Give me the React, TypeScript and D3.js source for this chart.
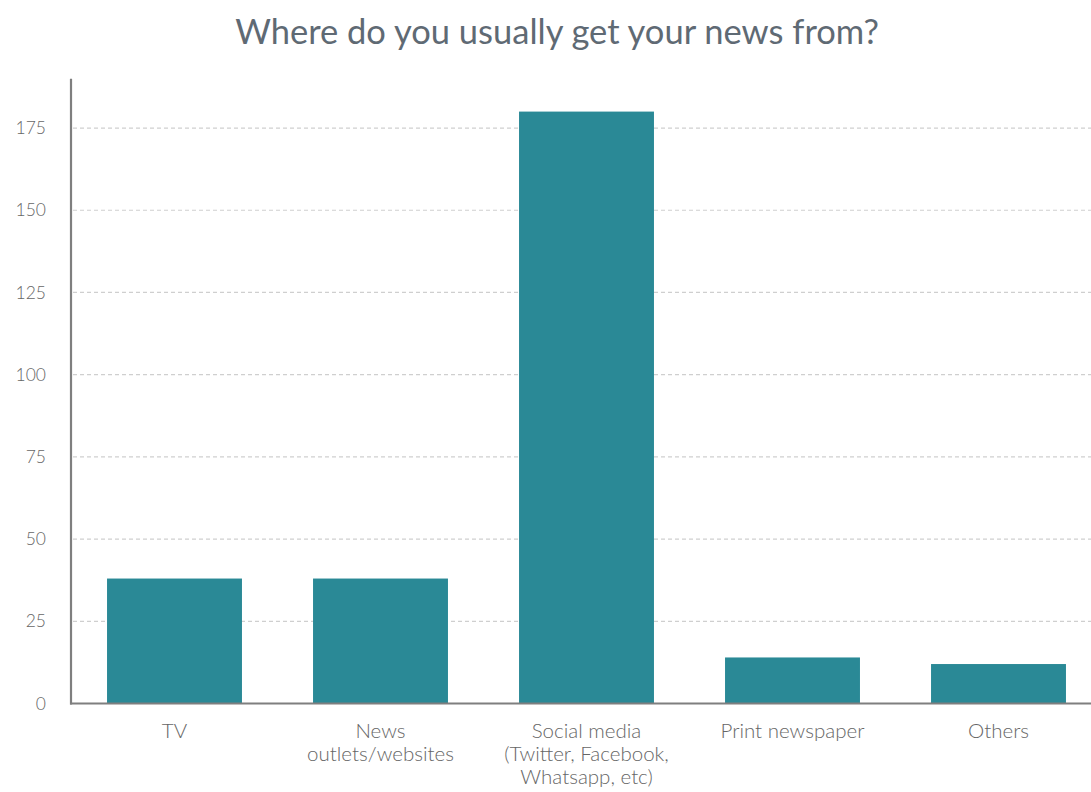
import React from "react";
import * as d3 from "d3";

const title = "Where do you usually get your news from?";
const categories = [
  "TV",
  "News\noutlets/websites",
  "Social media\n(Twitter, Facebook,\nWhatsapp, etc)",
  "Print newspaper",
  "Others",
];
const values = [38, 38, 180, 14, 12];
const yTicks = [0, 25, 50, 75, 100, 125, 150, 175];

const W = 1091;
const H = 792;
const FONT = "Lato, 'Open Sans', sans-serif";

export default function App() {
  const x = d3
    .scaleBand<string>()
    .domain(categories)
    .range([71.5, 1101.5])
    .paddingInner(0.345)
    .paddingOuter(0.1725);
  const y = d3.scaleLinear().domain([0, 190]).range([703.5, 78.7]);
  const x0 = 71;
  return (
    <svg
      width={W}
      height={H}
      style={{ position: "absolute", left: 0, top: 0, background: "#fff" }}
      fontFamily={FONT}
    >
      <text x={557} y={44} textAnchor="middle" fontSize={34.5} fill="#5f6a74">
        {title}
      </text>
      {yTicks.map((t) => (
        <g key={t}>
          {t > 0 && (
            <line
              x1={x0 + 2}
              x2={W}
              y1={y(t)}
              y2={y(t)}
              stroke="#cfcfcf"
              strokeWidth={1.2}
              strokeDasharray="4,3"
            />
          )}
          <text
            x={46}
            y={y(t)}
            dy="0.35em"
            textAnchor="end"
            fontSize={17.5}
            fontWeight={300}
            fill="#666"
          >
            {t}
          </text>
        </g>
      ))}
      {categories.map((c, i) => (
        <rect
          key={c}
          x={x(c)}
          y={y(values[i])}
          width={x.bandwidth()}
          height={y(0) - y(values[i])}
          fill="#2a8996"
        />
      ))}
      <line x1={x0} x2={x0} y1={y(190)} y2={y(0) + 1} stroke="#7f7f7f" strokeWidth={2.2} />
      <line x1={x0 - 1} x2={W} y1={y(0)} y2={y(0)} stroke="#7f7f7f" strokeWidth={2.2} />
      {categories.map((c) => (
        <text
          key={c}
          x={(x(c) as number) + x.bandwidth() / 2}
          y={738}
          textAnchor="middle"
          fontSize={20.5}
          fontWeight={300}
          fill="#666"
        >
          {c.split("\n").map((line, j) => (
            <tspan key={j} x={(x(c) as number) + x.bandwidth() / 2} dy={j === 0 ? 0 : 23}>
              {line}
            </tspan>
          ))}
        </text>
      ))}
    </svg>
  );
}
